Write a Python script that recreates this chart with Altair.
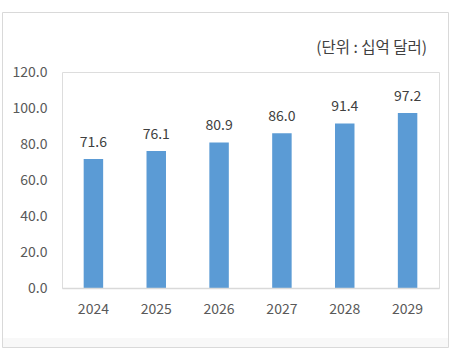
import altair as alt
import pandas as pd

years = ["2024", "2025", "2026", "2027", "2028", "2029"]
values = [71.6, 76.1, 80.9, 86.0, 91.4, 97.2]
y_ticks = [0, 20, 40, 60, 80, 100, 120]
unit_label = "(단위 : 십억 달러)"

df = pd.DataFrame({"year": years, "value": values})

FONT = "Noto Sans CJK KR"
W, H = 377, 216
PAD_L, PAD_T = 62, 72

x_enc = alt.X("year:N", sort=years,
              scale=alt.Scale(paddingInner=0.69, paddingOuter=0.345),
              axis=alt.Axis(title=None, labelAngle=0, labelFontSize=14, labelColor="#595959",
                            labelFont=FONT, labelPadding=14, ticks=False, domainColor="#d9d9d9",
                            domainWidth=1.5, zindex=1))
y_enc = alt.Y("value:Q", scale=alt.Scale(domain=[0, 120]),
              axis=alt.Axis(title=None, values=y_ticks, format=".1f",
                            labelFontSize=14, labelColor="#595959", labelFont=FONT,
                            labelOverlap=False, labelFlush=False,
                            labelPadding=15, ticks=False, domain=False, grid=False, zindex=1))

base = alt.Chart(df)

bars = base.mark_bar(color="#5b9bd5").encode(x=x_enc, y=y_enc)

text = base.mark_text(dy=-16, fontSize=14, color="#404040", font=FONT).encode(
    x=x_enc, y=y_enc,
    text=alt.Text("value:Q", format=".1f"),
)

# decorative frame and bottom band
frame = alt.Chart(pd.DataFrame({"a": [0]})).mark_rect(
    fillOpacity=0, stroke="#d9d9d9", strokeWidth=1, clip=False
).encode(
    x=alt.value(2.5 - PAD_L), x2=alt.value(448.5 - PAD_L),
    y=alt.value(12.5 - PAD_T), y2=alt.value(347.5 - PAD_T),
)
band = alt.Chart(pd.DataFrame({"a": [0]})).mark_rect(
    fill="#f8f8f8", clip=False
).encode(
    x=alt.value(3 - PAD_L), x2=alt.value(448 - PAD_L),
    y=alt.value(338 - PAD_T), y2=alt.value(347 - PAD_T),
)

unit = alt.Chart(pd.DataFrame({"t": [unit_label]})).mark_text(
    align="right", baseline="middle", fontSize=15.5, color="#404040", font=FONT
).encode(
    x=alt.value(427 - PAD_L), y=alt.value(48 - PAD_T), text="t:N"
)

chart = alt.layer(band, frame, bars, text, unit).properties(
    width=W, height=H,
    padding={"left": PAD_L, "top": PAD_T, "right": 452 - PAD_L - W, "bottom": 355 - PAD_T - H},
    autosize=alt.AutoSizeParams(type="none"),
).configure_view(stroke=None).configure_axis(labelOverlap=False).configure(background="white")

chart.save("out.html", embed_options={"renderer": "svg", "actions": False})
